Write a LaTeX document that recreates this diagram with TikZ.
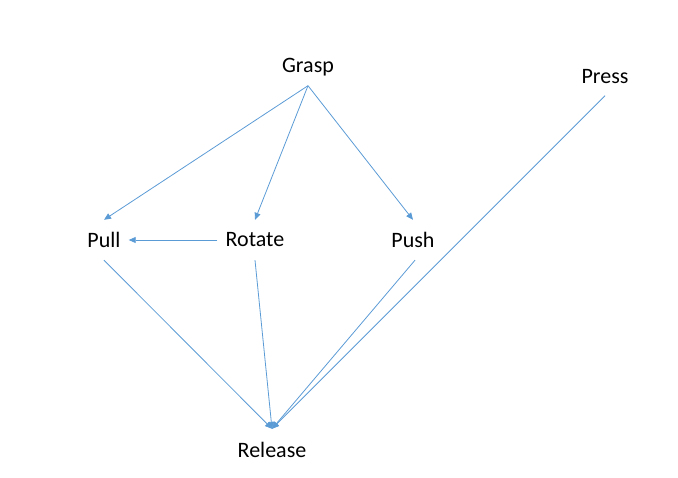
\documentclass[tikz,border=0pt]{standalone}
\usepackage{fontspec}
\setmainfont{Carlito}
\usetikzlibrary{arrows.meta}
\definecolor{edgeblue}{HTML}{5B9BD5}
\begin{document}
\begin{tikzpicture}[x=1pt,y=-1pt,
  lbl/.style={inner xsep=8pt,inner ysep=0pt,minimum height=40pt,font=\fontsize{22}{25}\selectfont,text=black},
  edge/.style={draw=edgeblue,line width=0.8pt},
  arr/.style={edge,-{Triangle[length=7pt,width=6pt]}}]
\useasboundingbox (0,0) rectangle (678,478);
\node[lbl,minimum height=37pt] (grasp) at (308,67) {Grasp};
\node[lbl,minimum height=37pt] (press) at (605,77) {Press};
\node[lbl] (pull) at (104,240) {Pull};
\node[lbl] (rotate) at (255,240) {Rotate};
\node[lbl] (push) at (413,240) {Push};
\node[lbl,minimum height=42pt] (release) at (272,450) {Release};
\draw[arr] (grasp.south) -- (pull.north);
\draw[arr] (grasp.south) -- (rotate.north);
\draw[arr] (grasp.south) -- (push.north);
\draw[arr] (rotate.west) -- (pull.east);
\draw[arr] (pull.south) -- (release.north);
\draw[arr] (rotate.south) -- (release.north);
\draw[arr] ([xshift=2pt]push.south) -- (release.north);
\draw[arr] (press.south) -- (release.north);
\end{tikzpicture}
\end{document}
